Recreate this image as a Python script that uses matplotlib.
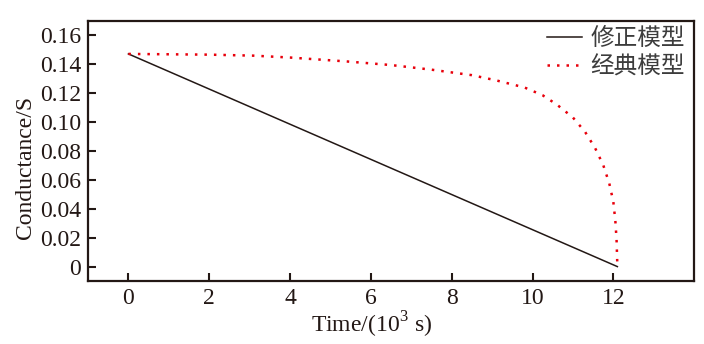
import numpy as np
import matplotlib
matplotlib.use('Agg')
import matplotlib.pyplot as plt

# corrected model: straight line from full conductance to zero
time_fix = [0.0, 12.1]
cond_fix = [0.1472, 0.0]

# classic model
time_cls = [0.0, 2.0, 3.1, 4.0, 5.4, 6.5, 7.5, 8.5, 9.1, 9.8, 10.25, 10.6,
            11.0, 11.3, 11.55, 11.75, 11.9, 12.0, 12.05, 12.08, 12.1]
cond_cls = [0.1472, 0.1467, 0.146, 0.1447, 0.142, 0.1395, 0.1363, 0.1325,
            0.1289, 0.1240, 0.1186, 0.1122, 0.1032, 0.0933, 0.082, 0.0703,
            0.0576, 0.0449, 0.0317, 0.0188, 0.0]

labels = ['修正模型', '经典模型']
xticks = np.arange(0, 13, 2)
yticks = np.arange(0, 0.161, 0.02)

plt.rcParams['font.family'] = ['Liberation Serif', 'DejaVu Serif']
plt.rcParams['mathtext.fontset'] = 'custom'
plt.rcParams['mathtext.rm'] = 'Liberation Serif'
plt.rcParams['font.size'] = 17

axc = '#231815'
fig = plt.figure(figsize=(7.04, 3.44), dpi=100)
ax = fig.add_axes([0.125, 0.183, 0.861, 0.756])

ax.plot(time_fix, cond_fix, color='#231815', lw=1.1, label=labels[0])
ax.plot(time_cls, cond_cls, color='#e8000b', lw=1.8, ls=(0, (1, 2.8)),
        label=labels[1])

ax.set_xlim(-1, 14)
ax.set_ylim(-0.01, 0.17)
ax.set_xticks(xticks)
ax.set_yticks(yticks)
ax.set_yticklabels(['0'] + ['%.2f' % v for v in yticks[1:]])
ax.tick_params(direction='in', length=5.5, width=1.5, color=axc, top=False,
               right=False, labelcolor=axc, pad=5)
for s in ax.spines.values():
    s.set_linewidth(1.6)
    s.set_color(axc)

ax.set_xlabel(r'Time/(10$^\mathrm{3}$ s)', color=axc, labelpad=0.5)
ax.set_ylabel('Conductance/S', color=axc, labelpad=3)
ax.xaxis.label.set_x(0.467)
ax.yaxis.label.set_y(0.435)

leg = ax.legend(loc='upper right', bbox_to_anchor=(1.0, 1.012), frameon=False,
                handlelength=1.5, borderaxespad=0.0, labelspacing=0.22,
                handletextpad=0.35,
                prop={'family': ['Noto Sans CJK SC'], 'size': 17})
for t in leg.get_texts():
    t.set_color('#3c3c3c')

fig.savefig('out.png', dpi=100)
